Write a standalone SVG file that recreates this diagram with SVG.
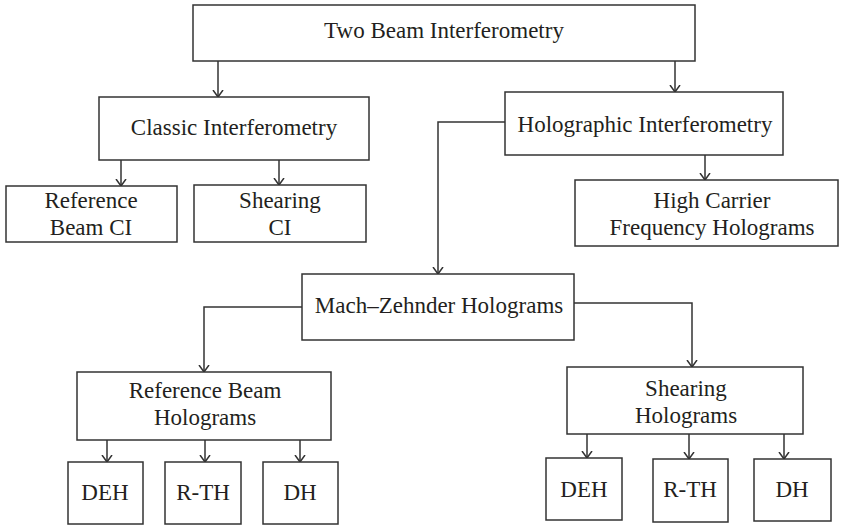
<svg xmlns="http://www.w3.org/2000/svg" width="842" height="526" viewBox="0 0 842 526">
<defs>
<style>
.box{fill:#fff;stroke:#333;stroke-width:1.5}
.t{font-family:"Liberation Serif","Times New Roman",serif;font-size:23px;fill:#231f20;text-anchor:middle}
.c{fill:none;stroke:#333;stroke-width:1.5}
</style>
<marker id="ah" viewBox="0 0 8 12" refX="7.5" refY="6" markerWidth="8" markerHeight="12" markerUnits="userSpaceOnUse" orient="auto">
<path d="M0.5,1 L7.5,6 L0.5,11" fill="none" stroke="#333" stroke-width="1.5"/>
</marker>
</defs>
<rect width="842" height="526" fill="#fff"/>
<g id="connectors">
<path class="c" d="M218,61 V97" marker-end="url(#ah)"/>
<path class="c" d="M675,61 V92" marker-end="url(#ah)"/>
<path class="c" d="M121,160 V186" marker-end="url(#ah)"/>
<path class="c" d="M279,160 V185" marker-end="url(#ah)"/>
<path class="c" d="M705,155 V180" marker-end="url(#ah)"/>
<path class="c" d="M505,122 H438 V274" marker-end="url(#ah)"/>
<path class="c" d="M302,307 H204 V372" marker-end="url(#ah)"/>
<path class="c" d="M574,303 H692 V367" marker-end="url(#ah)"/>
<path class="c" d="M107,440 V462" marker-end="url(#ah)"/>
<path class="c" d="M205,440 V462" marker-end="url(#ah)"/>
<path class="c" d="M300,440 V462" marker-end="url(#ah)"/>
<path class="c" d="M587,434 V458" marker-end="url(#ah)"/>
<path class="c" d="M689,434 V459" marker-end="url(#ah)"/>
<path class="c" d="M784,434 V459" marker-end="url(#ah)"/>
</g>
<g id="n-two-beam"><rect class="box" x="193" y="5" width="502" height="56"/><text class="t" x="444" y="38">Two Beam Interferometry</text></g>
<g id="n-classic"><rect class="box" x="99" y="97" width="270" height="63"/><text class="t" x="234" y="135">Classic Interferometry</text></g>
<g id="n-holo"><rect class="box" x="505" y="92" width="278" height="63"/><text class="t" x="645" y="132">Holographic Interferometry</text></g>
<g id="n-refci"><rect class="box" x="6" y="186" width="171" height="56"/><text class="t" x="91" y="208">Reference</text><text class="t" x="91" y="235">Beam CI</text></g>
<g id="n-shearci"><rect class="box" x="194" y="185" width="172" height="57"/><text class="t" x="280" y="208">Shearing</text><text class="t" x="280" y="235">CI</text></g>
<g id="n-highcarrier"><rect class="box" x="575" y="180" width="263" height="66"/><text class="t" x="712" y="208">High Carrier</text><text class="t" x="712" y="235">Frequency Holograms</text></g>
<g id="n-mz"><rect class="box" x="302" y="274" width="272" height="66"/><text class="t" x="439" y="313">Mach–Zehnder Holograms</text></g>
<g id="n-refholo"><rect class="box" x="77" y="372" width="254" height="68"/><text class="t" x="205" y="398">Reference Beam</text><text class="t" x="205" y="425">Holograms</text></g>
<g id="n-shearholo"><rect class="box" x="567" y="367" width="236" height="67"/><text class="t" x="686" y="396">Shearing</text><text class="t" x="686" y="423">Holograms</text></g>
<g id="n-deh1"><rect class="box" x="68" y="462" width="75" height="62"/><text class="t" x="105" y="500">DEH</text></g>
<g id="n-rth1"><rect class="box" x="165" y="462" width="76" height="62"/><text class="t" x="203" y="500">R-TH</text></g>
<g id="n-dh1"><rect class="box" x="263" y="462" width="75" height="62"/><text class="t" x="300" y="500">DH</text></g>
<g id="n-deh2"><rect class="box" x="546" y="458" width="76" height="62"/><text class="t" x="584" y="497">DEH</text></g>
<g id="n-rth2"><rect class="box" x="653" y="459" width="75" height="63"/><text class="t" x="690" y="497">R-TH</text></g>
<g id="n-dh2"><rect class="box" x="754" y="459" width="77" height="62"/><text class="t" x="792" y="497">DH</text></g>
</svg>
